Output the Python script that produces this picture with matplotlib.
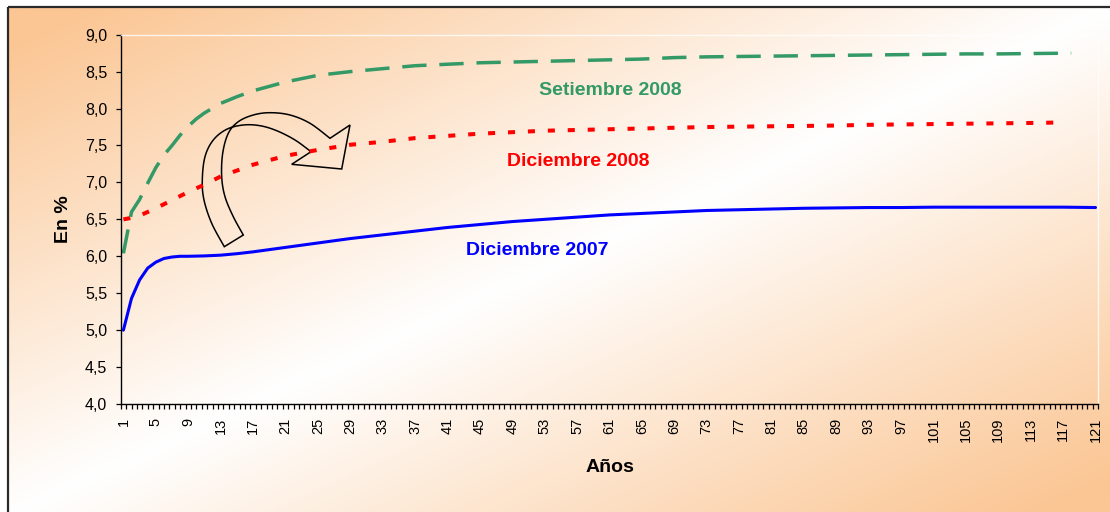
import numpy as np
import matplotlib
matplotlib.use('Agg')
import matplotlib.pyplot as plt
from matplotlib.path import Path
from matplotlib.patches import PathPatch
from matplotlib.ticker import FuncFormatter

plt.rcParams['font.family'] = ['Liberation Sans', 'DejaVu Sans']

# ---------------- data ----------------
years_dic2007 = [1, 2, 3, 4, 5, 6, 7, 8, 9, 11, 13, 15, 17, 21, 25, 29, 33, 37, 41, 45,
                 49, 53, 57, 61, 65, 69, 73, 77, 81, 85, 89, 93, 97, 101, 105, 109,
                 113, 117, 121]
vals_dic2007 = [5.00, 5.43, 5.68, 5.84, 5.92, 5.97, 5.99, 6.00, 6.00, 6.005, 6.015, 6.035,
                6.06, 6.12, 6.18, 6.24, 6.29, 6.34, 6.39, 6.43, 6.47, 6.50, 6.53, 6.56,
                6.58, 6.60, 6.62, 6.63, 6.64, 6.65, 6.655, 6.66, 6.66, 6.665, 6.665,
                6.665, 6.665, 6.665, 6.66]

years_set2008 = [1, 2, 3, 4, 5, 6, 7, 8, 9, 10, 11, 13, 15, 17, 19, 21, 25, 29, 33, 37,
                 41, 45, 49, 53, 57, 61, 65, 69, 73, 77, 81, 85, 89, 93, 97, 101, 105,
                 109, 113, 118]
vals_set2008 = [6.04, 6.60, 6.77, 6.99, 7.20, 7.37, 7.50, 7.64, 7.76, 7.86, 7.94, 8.07,
                8.16, 8.24, 8.30, 8.36, 8.45, 8.50, 8.54, 8.58, 8.60, 8.62, 8.63, 8.64,
                8.65, 8.66, 8.67, 8.69, 8.70, 8.705, 8.71, 8.715, 8.72, 8.725, 8.73,
                8.735, 8.74, 8.74, 8.745, 8.75]

years_dic2008 = [1, 2, 3, 5, 7, 9, 11, 13, 15, 17, 19, 21, 25, 29, 33, 37, 41, 45, 49,
                 53, 57, 61, 65, 69, 73, 77, 81, 85, 89, 93, 97, 101, 105, 109, 113, 116]
vals_dic2008 = [6.50, 6.52, 6.55, 6.65, 6.76, 6.87, 6.97, 7.08, 7.16, 7.24, 7.30, 7.36,
                7.44, 7.51, 7.55, 7.60, 7.63, 7.66, 7.68, 7.70, 7.71, 7.72, 7.73, 7.74,
                7.75, 7.755, 7.76, 7.765, 7.77, 7.78, 7.785, 7.79, 7.795, 7.80, 7.805,
                7.81]

x_tick_labels = list(range(1, 122, 4))
y_tick_values = [4.0, 4.5, 5.0, 5.5, 6.0, 6.5, 7.0, 7.5, 8.0, 8.5, 9.0]
series_names = ['Setiembre 2008', 'Diciembre 2008', 'Diciembre 2007']

# ---------------- figure ----------------
W, H = 1110, 512
fig = plt.figure(figsize=(W / 100, H / 100), dpi=100)
fig.patch.set_facecolor('white')

# background axes in pixel coordinates
bg = fig.add_axes([0, 0, 1, 1], zorder=0)
bg.axis('off')
gx = np.linspace(0, 1, 600)
gy = np.linspace(0, 1, 300)
GX, GY = np.meshgrid(gx, gy)
tt = np.clip(np.abs(GX + GY - 1.0) * 1.08, 0, 1)
orange = np.array([251, 198, 148]) / 255.0
img = 1 - tt[..., None] * (1 - orange)
bg.imshow(img, extent=(8, 1114, 516, 7), aspect='auto', interpolation='bilinear',
          origin='upper')
bg.set_xlim(0, W)
bg.set_ylim(H, 0)
bg.plot([8, 8], [H + 5, 7], color='#2a2a2a', lw=1.6, solid_capstyle='butt')
bg.plot([8, W + 5], [7, 7], color='#2a2a2a', lw=1.6, solid_capstyle='butt')


def catmull(pts, n=12):
    pts = np.asarray(pts, float)
    P = np.vstack([pts[0], pts, pts[-1]])
    out = []
    for i in range(1, len(P) - 2):
        p0, p1, p2, p3 = P[i - 1], P[i], P[i + 1], P[i + 2]
        for s in np.linspace(0, 1, n, endpoint=False):
            out.append(0.5 * ((2 * p1) + (-p0 + p2) * s + (2 * p0 - 5 * p1 + 4 * p2 - p3) * s ** 2
                              + (-p0 + 3 * p1 - 3 * p2 + p3) * s ** 3))
    out.append(P[-2])
    return np.array(out)


curve_a = [(224.3, 246.7), (211.7, 223.3), (204, 200), (202.3, 180), (205, 156.7),
           (213.3, 140), (226.7, 129.3), (243.3, 125), (260, 125.7), (276.7, 130.7),
           (295, 140), (311, 151.7)]
head = [(291.7, 164.3), (341.7, 169), (350, 125), (330, 138.3)]
curve_b = [(330, 138.3), (310, 123.3), (290, 115), (270, 112.7), (253.3, 115),
           (238.3, 121.7), (228.3, 133.3), (222.7, 153.3), (221.7, 176.7), (225, 196.7),
           (233.3, 216.7), (243.3, 235)]
pts = np.vstack([catmull(curve_a), np.array(head[:-1]), catmull(curve_b)])
codes = [Path.MOVETO] + [Path.LINETO] * (len(pts) - 1)
pts = np.vstack([pts, pts[0]])
codes.append(Path.CLOSEPOLY)
bg.add_patch(PathPatch(Path(pts, codes), facecolor='none', edgecolor='black', lw=1.1))

# series labels
bg.text(610, 95, series_names[0], color='#339966', fontsize=14, fontweight='bold',
        ha='center', va='baseline')
bg.text(578, 166.5, series_names[1], color='#FF0000', fontsize=14, fontweight='bold',
        ha='center', va='baseline')
bg.text(537, 255, series_names[2], color='#0000FF', fontsize=14, fontweight='bold',
        ha='center', va='baseline')
bg.text(64, 219, 'En %', rotation=90, fontsize=14, fontweight='bold',
        ha='center', va='center')
bg.text(610, 472, 'Años', fontsize=14, fontweight='bold', ha='center', va='baseline')

# main axes
left, right, top, bottom = 120.7, 1098.2, 34.7, 404.0
ax = fig.add_axes([left / W, (H - bottom) / H, (right - left) / W, (bottom - top) / H],
                  zorder=1)
ax.patch.set_alpha(0)

ax.plot(years_dic2007, vals_dic2007, color='#0000FF', lw=2.2, solid_joinstyle='round',
        solid_capstyle='round')
l2, = ax.plot(years_dic2008, vals_dic2008, color='#FF0000', lw=2.9)
l2.set_dashes([1.75, 3.2])
l3, = ax.plot(years_set2008, vals_set2008, color='#339966', lw=2.5)
l3.set_dashes([7.0, 3.7])

ax.set_xlim(1 - 1 / 3, 121 + 1 / 3)
ax.set_ylim(4.0, 9.0)

ax.set_yticks(y_tick_values)
ax.yaxis.set_major_formatter(FuncFormatter(lambda v, p: f"{v:.1f}".replace('.', ',')))
ax.tick_params(axis='y', which='major', length=3.6, width=0.9, pad=6, labelsize=11.5,
               direction='out', colors='black')

ax.set_xticks(x_tick_labels)
ax.set_xticklabels([str(v) for v in x_tick_labels], rotation=90)
ax.set_xticks(np.arange(0, 182) * (2 / 3) + 2 / 3, minor=True)
ax.tick_params(axis='x', which='major', length=0, pad=10, labelsize=10.5)
ax.tick_params(axis='x', which='minor', length=3.6, width=0.9, direction='out')

for s in ['left', 'bottom']:
    ax.spines[s].set_color('black')
    ax.spines[s].set_linewidth(1.0)
for s in ['top', 'right']:
    ax.spines[s].set_color('white')
    ax.spines[s].set_linewidth(1.0)
    ax.spines[s].set_alpha(0.8)

fig.savefig('out.png', dpi=100)
